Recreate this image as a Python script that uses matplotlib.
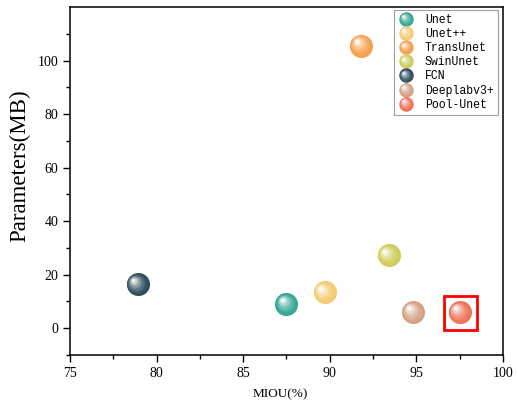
import matplotlib.pyplot as plt
import matplotlib.transforms as mtransforms
from matplotlib.legend_handler import HandlerBase
from matplotlib.lines import Line2D
from matplotlib.patches import Rectangle
import numpy as np

models = ['Unet', 'Unet++', 'TransUnet', 'SwinUnet', 'FCN', 'Deeplabv3+', 'Pool-Unet']
miou = [87.5, 89.7, 91.8, 93.4, 78.9, 94.8, 97.5]
params = [9.0, 13.4, 105.6, 27.2, 16.4, 6.0, 6.0]
colors = ['#35a493', '#f2cb72', '#f69f4c', '#cfca59', '#2c4c5b', '#d4a085', '#ee7157']

plt.rcParams['font.family'] = ['Liberation Serif', 'DejaVu Serif']


def blend(c, f):
    c = np.array(plt.matplotlib.colors.to_rgb(c))
    return tuple(c + (1 - c) * f)


def sphere_layers(color, radius, n=8):
    # (diameter, dx, dy, color) in points, from outer to highlight
    out = [(2 * radius, 0, 0, color)]
    for k in range(1, n + 1):
        t = k / n
        d = 2 * radius * (1 - 0.85 * t)
        off = radius * 0.38 * t
        out.append((d, -off, off, blend(color, 0.95 * t ** 1.6)))
    return out


fig = plt.figure(figsize=(5.18, 4.01), dpi=100)
ax = fig.add_axes([0.1351, 0.1147, 0.8359, 0.8678])

for x, y, c in zip(miou, params, colors):
    for d, dx, dy, cc in sphere_layers(c, 8.3):
        tr = mtransforms.offset_copy(ax.transData, fig=fig, x=dx, y=dy, units='points')
        ax.plot([x], [y], 'o', ms=d, color=cc, mec='none', transform=tr, zorder=3)

# highlight box around Pool-Unet
ax.add_patch(Rectangle((96.6, -0.5), 1.9, 12.6, fill=False, ec='#ff0000', lw=2, zorder=4))

ax.set_xlim(75, 100)
ax.set_ylim(-10, 120)
ax.set_xticks([75, 80, 85, 90, 95, 100])
ax.set_xticks(np.arange(77.5, 100, 5), minor=True)
ax.set_yticks([0, 20, 40, 60, 80, 100])
ax.set_yticks(np.arange(-10, 120, 20), minor=True)
ax.tick_params(which='major', direction='out', length=5, width=1, labelsize=10)
ax.tick_params(which='minor', direction='out', length=3, width=1)
for s in ax.spines.values():
    s.set_linewidth(1.1)

ax.set_xlabel('MIOU(%)', fontsize=9.5)
ax.xaxis.set_label_coords(0.486, -0.095)
ax.set_ylabel('Parameters(MB)', fontsize=16.5)
ax.yaxis.set_label_coords(-0.092, 0.543)


class SphereHandler(HandlerBase):
    def create_artists(self, legend, orig_handle, xdescent, ydescent, width, height, fontsize, trans):
        c = orig_handle.get_color()
        arts = []
        cx, cy = width / 2 - xdescent, height / 2 - ydescent
        for d, dx, dy, cc in sphere_layers(c, 5.2, n=6):
            l = Line2D([cx + dx], [cy + dy], marker='o', ms=d, color=cc, mec='none', ls='none')
            l.set_transform(trans)
            arts.append(l)
        return arts


handles = [Line2D([], [], color=c) for c in colors]
leg = ax.legend(handles, models, handler_map={Line2D: SphereHandler()},
                loc='upper right', bbox_to_anchor=(0.988, 0.991),
                prop={'family': 'Liberation Mono', 'size': 8.3},
                frameon=True, fancybox=False, edgecolor='#888888',
                handlelength=1.3, handletextpad=1.0, labelspacing=0.18,
                borderpad=0.35, borderaxespad=0)
leg.get_frame().set_linewidth(0.8)

fig.savefig('out.png', dpi=100)
